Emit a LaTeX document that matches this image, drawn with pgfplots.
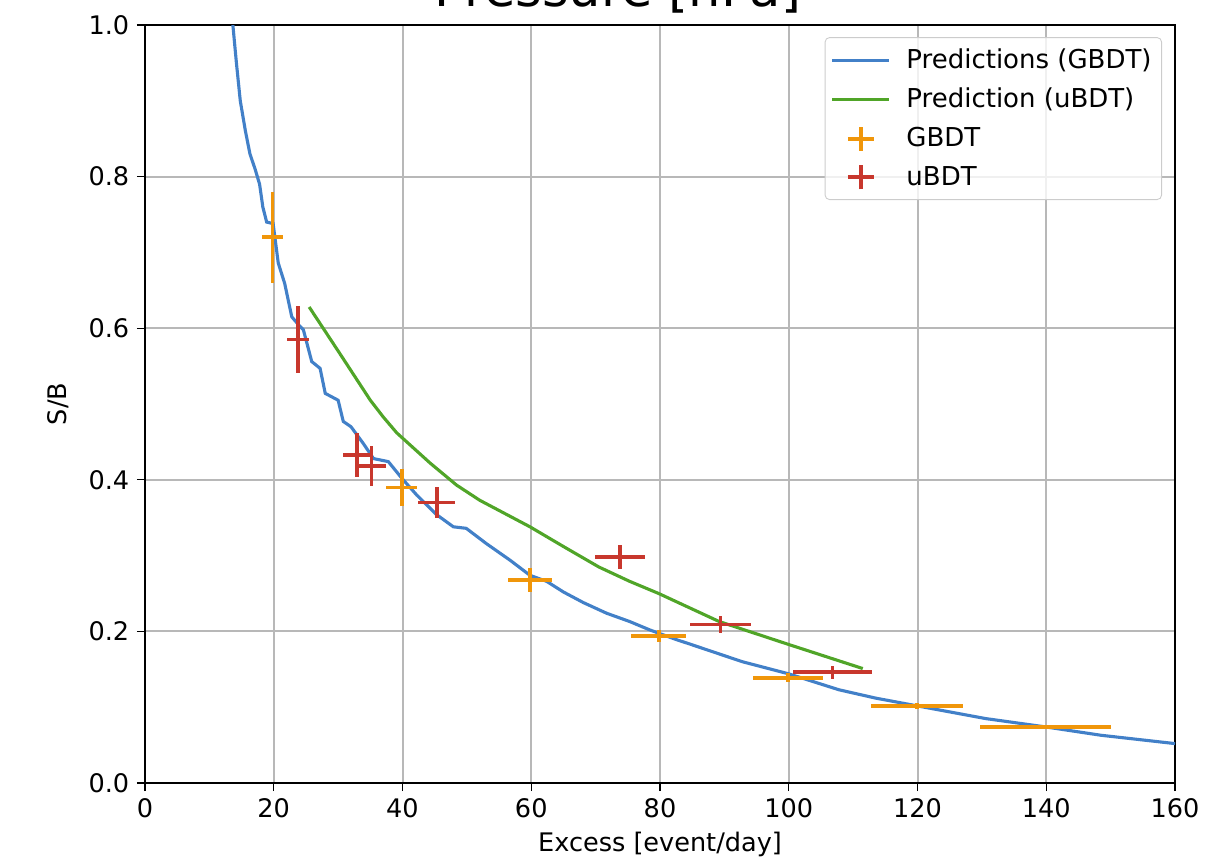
\documentclass[border=0pt]{standalone}
\usepackage{fontspec}
\setmainfont{DejaVu Sans}
\usepackage{pgfplots}
\pgfplotsset{compat=1.18}
\definecolor{cblue}{RGB}{66,128,200}
\definecolor{cgreen}{RGB}{80,165,40}
\definecolor{corange}{RGB}{240,150,10}
\definecolor{cred}{RGB}{200,55,45}
\begin{document}
\begin{tikzpicture}[font=\fontsize{11.5}{14}\selectfont]
\begin{axis}[
  scale only axis, width=463.5pt, height=341.1pt,
  xmin=0, xmax=160, ymin=0, ymax=1,
  xtick={0,20,40,60,80,100,120,140,160},
  ytick={0,0.2,0.4,0.6,0.8,1.0},
  yticklabel style={/pgf/number format/.cd, fixed, fixed zerofill, precision=1},
  /pgf/number format/assume math mode=true,
  tick align=outside, major tick length=3.6pt,
  xtick pos=left, ytick pos=left,
  tick style={black, line width=0.6pt},
  grid=major, major grid style={color=black!28, line width=0.9pt},
  axis line style={line width=0.9pt},
  xlabel={Excess [event/day]}, ylabel={S/B},
  xlabel style={at={(axis description cs:0.5,-0.0897)}, anchor=base},
  ylabel style={at={(axis description cs:-0.084,0.5)}, anchor=center},
  legend style={at={(axis description cs:0.9874,0.984)}, anchor=north east,
    draw=black!20, rounded corners=2pt, fill=white, fill opacity=0.8, text opacity=1,
    row sep=3.3pt, column sep=5pt, inner xsep=2.5pt, inner ysep=3pt,
    font=\fontsize{11.7}{14}\selectfont},
  legend cell align=left,
]
\coordinate (bl) at (rel axis cs:0,0);
\coordinate (tr) at (rel axis cs:1,1);
\coordinate (tt) at (rel axis cs:0.459,1);

\addplot[cblue, line width=1.4pt, mark=none,
  legend image code/.code={\draw[cblue, line width=1.4pt] (0pt,0pt) -- (25.7pt,0pt);}]
coordinates {
(13.65,1.0)(14.2,0.95)(14.8,0.90)(15.6,0.86)(16.3,0.83)(17.1,0.81)(17.8,0.79)(18.3,0.76)
(18.9,0.740)(19.9,0.738)(20.7,0.686)(21.7,0.659)(22.8,0.615)(24.0,0.603)(24.6,0.598)
(25.9,0.556)(27.2,0.547)(28.0,0.514)(30.0,0.505)(30.8,0.477)(32.0,0.470)(33.9,0.448)
(35.5,0.428)(37.8,0.424)(39.9,0.402)(42.2,0.380)(45.3,0.354)(47.9,0.338)(49.9,0.336)
(53.0,0.316)(56.7,0.294)(59.8,0.274)(62.4,0.266)(65.0,0.252)(68.1,0.238)(71.7,0.224)
(75.3,0.213)(78.4,0.202)(82.6,0.189)(84.4,0.184)(92.8,0.160)(100.0,0.144)(107.8,0.123)
(113.5,0.112)(119.8,0.102)(130.6,0.085)(139.9,0.074)(148.5,0.063)(160,0.052)
};
\addlegendentry{Predictions (GBDT)}

\addplot[cgreen, line width=1.4pt, mark=none,
  legend image code/.code={\draw[cgreen, line width=1.4pt] (0pt,0pt) -- (25.7pt,0pt);}]
coordinates {
(25.5,0.628)(30,0.570)(35,0.505)(37,0.483)(39.1,0.462)(44.3,0.422)(48.4,0.393)
(52.0,0.373)(59.8,0.338)(65.0,0.312)(70.5,0.285)(75.3,0.266)(79.8,0.250)(83.1,0.237)
(89.2,0.213)(99.9,0.183)(111.5,0.151)
};
\addlegendentry{Prediction (uBDT)}

\addplot[draw=none, mark=none,
  legend image code/.code={\draw[corange, line width=1.7pt] (12.85pt,-5.4pt) -- (12.85pt,5.4pt);
     \draw[corange, line width=1.7pt] (7pt,0pt) -- (18.7pt,0pt);},
  error bars/.cd, x dir=both, x explicit, y dir=both, y explicit, error mark=none,
  error bar style={draw=corange, line width=1.7pt}]
table[x=x, y=y, x error=ex, y error=ey] {
x y ex ey
19.8 0.720 1.7 0.06
39.9 0.390 2.4 0.024
59.8 0.268 3.45 0.016
79.8 0.194 4.3 0.008
99.9 0.139 5.4 0.006
119.9 0.102 7.2 0.004
139.9 0.074 10.2 0.003
};
\addlegendentry{GBDT}

\addplot[draw=none, mark=none,
  legend image code/.code={\draw[cred, line width=1.7pt] (12.85pt,-5.4pt) -- (12.85pt,5.4pt);
     \draw[cred, line width=1.7pt] (7pt,0pt) -- (18.7pt,0pt);},
  error bars/.cd, x dir=both, x explicit, y dir=both, y explicit, error mark=none,
  error bar style={draw=cred, line width=1.7pt}]
table[x=x, y=y, x error=ex, y error=ey] {
x y ex ey
23.8 0.585 1.75 0.044
32.9 0.433 2.1 0.029
35.2 0.418 2.2 0.026
45.3 0.370 2.85 0.021
73.8 0.298 3.9 0.016
89.4 0.209 4.7 0.011
106.8 0.146 6.1 0.009
};
\addlegendentry{uBDT}
\end{axis}
\node[anchor=base, inner sep=0pt, font=\fontsize{23}{27}\selectfont] at ([yshift=8.5pt]tt) {Pressure [hPa]};
\pgfresetboundingbox
\path[use as bounding box] ([shift={(-65.25pt,-36.9pt)}]bl) rectangle ([shift={(13.5pt,11.25pt)}]tr);
\end{tikzpicture}
\end{document}
